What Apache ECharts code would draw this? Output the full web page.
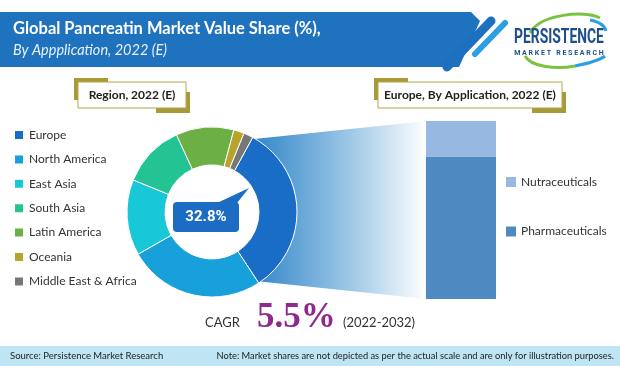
<!DOCTYPE html>
<html><head><meta charset="utf-8">
<script src="https://cdn.jsdelivr.net/npm/echarts@6/dist/echarts.min.js"></script>
<style>html,body{margin:0;padding:0;background:#fff}#c{width:620px;height:366px}</style>
</head><body><div id="c"></div>
<script>
var regions = ['Europe','North America','East Asia','South Asia','Latin America','Oceania','Middle East & Africa'];
var regionShare = [32.8, 26.0, 14.4, 12.0, 11.0, 2.0, 1.8];
var regionColors = ['#1a6dc7','#18a0db','#19c8d6','#23c394','#6caf45','#b8a42b','#777777'];
var applications = ['Pharmaceuticals','Nutraceuticals'];
var appShare = [80, 20];
var appColors = ['#4f89c1','#97b9e1'];
var cagr = '5.5%';
var highlightShare = regionShare[0];

var chart = echarts.init(document.getElementById('c'), null, {renderer:'canvas'});
var cx = 212, cy = 212, rIn = 47, rOut = 85, startA = 61.4;
function pt(theta, r){ var a = theta*Math.PI/180; return [cx + r*Math.sin(a), cy - r*Math.cos(a)]; }
var t0 = 90 - startA, t1 = t0 + highlightShare/100*360;
var conn = [pt(t0, rOut-2), [427,121], [427,299], pt(t1, rOut-2), pt(t1-20, rOut-15), pt((t0+t1)/2, rOut-15), pt(t0+20, rOut-15)];

var titleFont = '"Lato", "DejaVu Sans", sans-serif';
var bodyFont = '"Lato", "Open Sans", sans-serif';

function labelBox(x, y, w, h, text){
  return [
    {type:'rect', shape:{x:x-2, y:y-2, width:34, height:22}, style:{fill:'#a99a38'}},
    {type:'rect', shape:{x:x+w-32, y:y+h-18, width:34, height:21}, style:{fill:'#a99a38'}},
    {type:'rect', shape:{x:x+2, y:y+2, width:w-4, height:h-4}, style:{fill:'#fff', stroke:'#b3a650', lineWidth:1}},
    {type:'text', x:x+w/2, y:y+h/2, style:{text:text, font:'bold 12px ' + titleFont, fill:'#222', align:'center', verticalAlign:'middle'}}
  ];
}

var graphics = [
  {type:'polygon', z:-1, shape:{points:[[0,12],[471,12],[480,21],[459,67],[0,67]]}, style:{fill:'#1f72bd'}},
  {type:'line', shape:{x1:491,y1:21,x2:447,y2:67}, style:{stroke:'#1f6fc0', lineWidth:9, lineCap:'round'}},
  {type:'line', shape:{x1:505,y1:23,x2:475,y2:54}, style:{stroke:'#2a9fe2', lineWidth:6, lineCap:'round'}},
  {type:'text', x:13, y:29, style:{text:'Global Pancreatin Market Value Share (%),', font:'bold 16.5px ' + titleFont, fill:'#fff', verticalAlign:'middle'}},
  {type:'text', x:13, y:50, style:{text:'By Appplication, 2022 (E)', font:'italic 14.5px ' + titleFont, fill:'#e8f1fa', verticalAlign:'middle'}},
  // logo
  {type:'bezierCurve', shape:{x1:530,y1:33,x2:600,y2:18,cpx1:540,cpy1:14,cpx2:585,cpy2:10}, style:{stroke:'#7cc242', lineWidth:3, fill:null}},
  {type:'bezierCurve', shape:{x1:590,y1:20,x2:606,y2:31,cpx1:600,cpy1:22,cpx2:605,cpy2:26}, style:{stroke:'#2a9fe2', lineWidth:3, fill:null}},
  {type:'bezierCurve', shape:{x1:525,y1:56,x2:575,y2:66,cpx1:530,cpy1:66,cpx2:555,cpy2:70}, style:{stroke:'#7cc242', lineWidth:3, fill:null}},
  {type:'bezierCurve', shape:{x1:575,y1:66,x2:605,y2:56,cpx1:590,cpy1:63,cpx2:600,cpy2:60}, style:{stroke:'#2a9fe2', lineWidth:3, fill:null}},
  {type:'group', x:559, y:38, scaleX:0.66, children:[
    {type:'text', x:0, y:0, style:{text:'PERSISTENCE', font:'bold 21px "Roboto", "DejaVu Sans", sans-serif', fill:'#1d4f8c', align:'center', verticalAlign:'middle'}}
  ]},
  {type:'text', x:559, y:53, style:{text:'M A R K E T   R E S E A R C H', font:'bold 7px "Roboto", sans-serif', fill:'#1d4f8c', align:'center', verticalAlign:'middle'}},
  // connector
  {type:'polygon', z:-1, shape:{points:conn}, style:{fill:{type:'linear', x:0, y:0, x2:1, y2:0, colorStops:[{offset:0,color:'#2f85c8'},{offset:0.55,color:'#9cc6e6'},{offset:1,color:'#ffffff'}]}}},
  // bubble
  {type:'polygon', z:10, shape:{points:[[217,203],[249,188],[237,203]]}, style:{fill:'#1b6cc2'}},
  {type:'rect', z:10, shape:{x:173, y:202, width:66, height:30, r:4}, style:{fill:'#1b6cc2'}},
  {type:'text', z:11, x:206, y:217, style:{text:highlightShare.toFixed(1)+'%', font:'bold 15px "Roboto", sans-serif', fill:'#fff', align:'center', verticalAlign:'middle'}},
  // CAGR
  {type:'text', x:205, y:323, style:{text:'CAGR', font:'13px ' + titleFont, fill:'#333', verticalAlign:'middle'}},
  {type:'text', x:257, y:318, style:{text:cagr, font:'bold 35px "Liberation Serif", "DejaVu Serif", serif', fill:'#8e2a8d', verticalAlign:'middle'}},
  {type:'text', x:343, y:323, style:{text:'(2022-2032)', font:'13px ' + titleFont, fill:'#333', verticalAlign:'middle'}},
  // footer
  {type:'rect', z:-1, shape:{x:0, y:346, width:620, height:20}, style:{fill:'#bfe5f4'}},
  {type:'text', x:10, y:356, style:{text:'Source: Persistence Market Research', font:'9.5px ' + bodyFont, fill:'#222', verticalAlign:'middle'}},
  {type:'text', x:614, y:356, style:{text:'Note: Market shares are not depicted as per the actual scale and are only for illustration purposes.', font:'9.3px ' + bodyFont, fill:'#222', align:'right', verticalAlign:'middle'}}
].concat(labelBox(76, 80, 112, 30, 'Region, 2022 (E)')).concat(labelBox(376, 80, 188, 30, 'Europe, By Application, 2022 (E)'));

var option = {
  animation:false,
  color: regionColors,
  legend:[
    {orient:'vertical', left:13, top:129, padding:0, itemWidth:10, itemHeight:10, itemGap:12.4, icon:'rect', data:regions,
     textStyle:{fontFamily:bodyFont, fontSize:12, color:'#333'}},
    {orient:'vertical', left:506, top:176, padding:0, itemWidth:10, itemHeight:10, itemGap:37.5, icon:'rect', data:['Nutraceuticals','Pharmaceuticals'],
     textStyle:{fontFamily:bodyFont, fontSize:12, color:'#333'}}
  ],
  grid:{left:426, top:121, width:70, height:178},
  xAxis:{type:'category', data:['Europe'], show:false},
  yAxis:{type:'value', min:0, max:100, show:false},
  series:[
    {type:'pie', name:'Region', center:[cx,cy], radius:[rIn,rOut], startAngle:startA, clockwise:true,
     label:{show:false}, labelLine:{show:false}, itemStyle:{borderColor:'#fff', borderWidth:1},
     data: regions.map(function(n,i){ return {name:n, value:regionShare[i], itemStyle:{color:regionColors[i]}}; })},
    {type:'bar', name:applications[0], stack:'a', barWidth:70, data:[appShare[0]], itemStyle:{color:appColors[0]}},
    {type:'bar', name:applications[1], stack:'a', barWidth:70, data:[appShare[1]], itemStyle:{color:appColors[1]}}
  ],
  graphic: graphics
};
chart.setOption(option);
</script></body></html>
